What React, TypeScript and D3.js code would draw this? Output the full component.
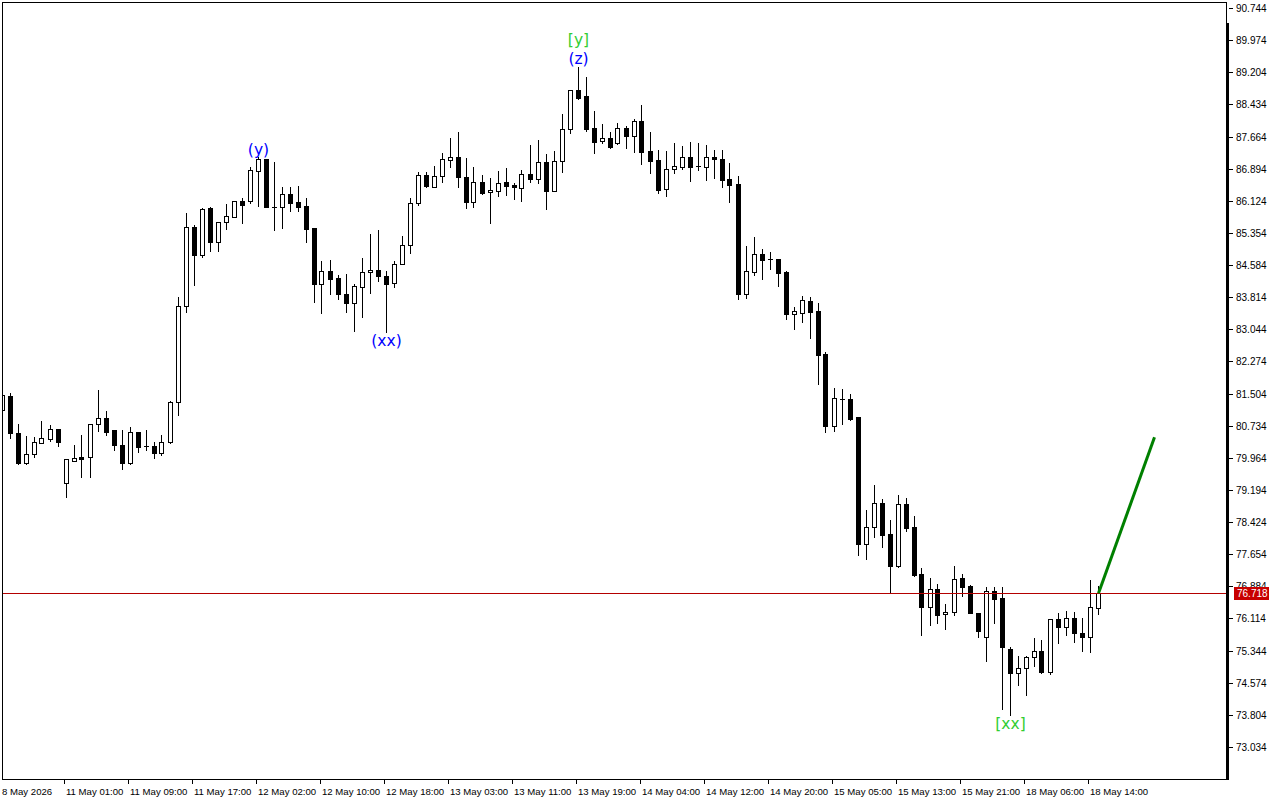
import React from 'react';
import * as d3 from 'd3';

const opens = [81.111,81.446,80.560,79.841,80.056,80.320,80.416,80.656,79.362,79.889,79.985,79.985,80.775,80.919,80.632,80.272,79.841,80.584,80.250,80.248,80.080,80.344,81.302,83.603,85.496,84.825,85.952,85.137,85.616,85.736,86.119,86.119,86.838,87.126,85.980,85.975,86.287,86.095,85.999,85.472,84.130,84.442,84.274,83.890,83.675,84.058,84.418,84.466,84.322,84.154,84.609,85.065,86.071,86.742,86.455,86.718,87.102,87.174,86.694,86.095,86.575,86.335,86.359,86.575,86.503,86.431,86.766,86.646,87.054,86.359,87.078,87.845,88.779,88.636,87.869,87.557,87.629,87.509,87.869,87.677,88.036,87.318,87.102,86.407,86.886,86.934,87.174,86.960,86.934,87.174,87.126,86.646,86.527,83.890,84.418,84.849,84.730,84.729,84.418,83.411,83.435,83.723,83.483,82.453,80.727,81.380,81.374,80.943,77.900,78.307,78.882,78.139,77.373,78.858,78.307,77.181,76.390,76.821,76.222,76.270,77.085,76.893,76.246,75.671,76.773,76.606,75.383,74.808,74.928,75.192,75.335,74.832,76.102,75.911,76.126,75.767,75.671,76.366];
const highs = [81.518,81.518,80.775,80.488,80.464,80.847,80.751,80.660,79.940,80.272,80.512,80.780,81.590,81.087,80.640,80.632,80.703,80.590,80.632,80.344,80.512,81.326,83.819,85.832,85.544,85.952,85.976,85.620,86.047,86.130,86.191,86.934,87.174,87.130,87.054,86.455,86.455,86.479,86.191,85.480,84.681,84.705,84.346,84.370,84.130,84.753,85.328,85.424,84.442,84.681,85.281,86.191,86.814,86.814,86.958,87.270,87.629,87.773,87.150,86.934,86.742,86.670,86.838,86.910,86.551,86.862,87.461,87.581,87.246,87.318,88.204,88.790,89.330,89.090,88.276,87.965,87.773,87.989,87.917,88.084,88.420,87.773,87.341,87.318,87.509,87.437,87.533,87.509,87.461,87.341,87.341,87.030,86.718,85.041,85.257,84.969,84.897,84.740,84.430,83.579,83.843,83.819,83.675,82.501,81.638,81.614,81.494,80.950,78.714,79.314,78.978,78.475,79.074,79.002,78.571,77.325,77.085,76.941,76.462,77.373,77.181,76.917,76.250,76.869,76.869,76.869,75.431,75.216,75.216,75.647,75.599,76.110,76.246,76.294,76.270,76.126,77.037,76.893];
const lows = [81.063,80.440,79.820,79.820,79.985,80.310,80.368,80.248,79.026,79.880,79.505,79.505,80.608,80.512,80.152,79.697,79.817,80.104,80.152,79.961,80.032,80.320,80.991,83.459,84.106,84.777,84.921,84.921,85.448,85.730,85.592,86.071,85.999,85.970,85.424,85.472,85.880,85.880,85.137,83.699,83.435,83.890,83.771,83.459,83.004,83.339,83.914,84.202,82.980,84.058,84.600,84.873,86.023,86.455,86.450,86.575,86.934,86.455,85.952,85.975,86.287,85.592,86.239,86.263,86.167,86.119,86.575,86.551,85.928,86.350,86.814,87.749,88.564,87.797,87.270,87.509,87.400,87.485,87.389,87.294,87.006,86.790,86.311,86.239,86.790,86.886,86.599,86.862,86.623,86.670,86.455,86.095,83.771,83.795,84.346,84.250,84.490,84.082,83.291,83.052,83.220,82.836,81.734,80.584,80.608,80.775,80.871,77.636,77.540,78.067,77.828,76.749,77.350,78.211,77.130,75.719,75.959,76.007,75.863,76.198,76.654,76.240,75.671,75.096,76.007,73.946,73.802,74.521,74.281,74.976,74.808,74.784,75.527,75.719,75.551,75.335,75.311,76.222];
const closes = [81.470,80.560,79.841,80.056,80.344,80.440,80.656,80.344,79.937,79.961,79.937,80.775,80.919,80.584,80.272,79.841,80.584,80.224,80.248,80.080,80.344,81.302,83.603,85.496,84.825,85.928,85.137,85.616,85.760,86.119,86.023,86.862,87.126,85.975,85.975,86.287,86.071,85.975,85.448,84.130,84.442,84.250,83.890,83.675,84.082,84.418,84.466,84.322,84.130,84.609,85.065,86.071,86.742,86.479,86.718,87.126,87.174,86.694,86.095,86.575,86.311,86.383,86.551,86.479,86.455,86.766,86.646,87.054,86.359,87.078,87.845,88.779,88.588,87.845,87.533,87.629,87.413,87.869,87.677,88.036,87.294,87.078,86.383,86.886,86.958,87.174,86.934,86.958,87.174,87.126,86.623,86.503,83.890,84.442,84.849,84.705,84.729,84.394,83.411,83.483,83.747,83.459,82.429,80.727,81.398,81.374,80.895,77.900,78.307,78.882,78.115,77.373,78.858,78.283,77.157,76.390,76.821,76.198,76.270,77.061,76.869,76.246,75.815,76.773,76.582,75.431,74.808,74.928,75.192,75.335,74.832,76.102,75.911,76.126,75.767,75.671,76.390,76.718];

const timeLabels = ['8 May 2026','11 May 01:00','11 May 09:00','11 May 17:00','12 May 02:00','12 May 10:00','12 May 18:00','13 May 03:00','13 May 11:00','13 May 19:00','14 May 04:00','14 May 12:00','14 May 20:00','15 May 05:00','15 May 13:00','15 May 21:00','18 May 06:00','18 May 14:00'];
const timeLabelBars = [0,8,16,24,32,40,48,56,64,72,80,88,96,104,112,120,128,136];
const priceTicks = [90.744,89.974,89.204,88.434,87.664,86.894,86.124,85.354,84.584,83.814,83.044,82.274,81.504,80.734,79.964,79.194,78.424,77.654,76.884,76.114,75.344,74.574,73.804,73.034];
const currentPrice = 76.718;

const waveLabels = ['(y)','(xx)','[y]','(z)','[xx]'];
const waveBars = [32,48,72,72,126];
const wavePrices = [87.341,82.764,89.989,89.522,73.586];
const waveColors = ['#0000ff','#0000ff','#32cd32','#0000ff','#32cd32'];

const projBars = [137,144];
const projPrices = [76.718,80.456];

const W = 1280, H = 800;
const plotLeft = 2, plotTop = 2, plotRight = 1229, plotBottom = 779;

export default function App() {
  const x = d3.scaleLinear().domain([0, 137]).range([2.5, 1098.5]);
  const y = d3.scaleLinear().domain([73.034, 90.744]).range([747, 8]);
  const axisFont = '"Liberation Sans", Arial, sans-serif';
  const waveFont = '"DejaVu Sans", sans-serif';
  const line = d3.line<number>().x((_, i) => x(projBars[i])).y((d) => y(d));
  const py = Math.round(y(currentPrice));

  return (
    <svg width={W} height={H} style={{ position: 'absolute', left: 0, top: 0, background: '#fff' }}>
      <defs>
        <clipPath id="plot">
          <rect x={plotLeft} y={plotTop} width={plotRight - plotLeft} height={plotBottom - plotTop} />
        </clipPath>
      </defs>
      <rect x={0} y={0} width={W} height={H} fill="#fff" />
      <g clipPath="url(#plot)">
        {opens.map((o, i) => {
          const c = closes[i];
          const cx = x(i);
          const left = Math.floor(cx - 2.5);
          const yh = Math.round(y(highs[i]));
          const yl = Math.round(y(lows[i]));
          const top = Math.round(y(Math.max(o, c)));
          const bot = Math.round(y(Math.min(o, c)));
          const bull = c > o;
          return (
            <g key={i}>
              <rect x={left + 2} y={yh} width={1} height={yl - yh + 1} fill="#000" />
              {bull ? (
                <rect x={left + 0.5} y={top + 0.5} width={4} height={Math.max(bot - top, 1)} fill="#fff" stroke="#000" strokeWidth={1} />
              ) : (
                <rect x={left} y={top} width={5} height={Math.max(bot - top + 1, 1)} fill="#000" />
              )}
            </g>
          );
        })}
        <line x1={plotLeft} x2={plotRight} y1={py + 0.5} y2={py + 0.5} stroke="#b40000" strokeWidth={1} />
        <path d={line(projPrices) || ''} stroke="#008000" strokeWidth={3} fill="none" />
        {waveLabels.map((t, i) => (
          <text key={t + i} x={x(waveBars[i])} y={y(wavePrices[i])} textAnchor="middle" dominantBaseline="central"
            fontFamily={waveFont} fontSize={15.5} fill={waveColors[i]}>{t}</text>
        ))}
      </g>
      {/* frame */}
      <rect x={plotLeft + 0.5} y={plotTop + 0.5} width={plotRight - plotLeft - 3} height={plotBottom - plotTop} fill="none" stroke="#000" strokeWidth={1} />
      <rect x={plotRight - 2} y={23} width={2} height={plotBottom - 23 + 1} fill="#000" />
      {/* price axis */}
      {priceTicks.map((p) => {
        const ty = Math.round(y(p));
        return (
          <g key={p}>
            <rect x={plotRight} y={ty} width={4} height={1} fill="#000" />
            <text x={plotRight + 7} y={ty} dominantBaseline="central" fontFamily={axisFont} fontSize={10} fill="#000">{p.toFixed(3)}</text>
          </g>
        );
      })}
      <rect x={1234} y={py - 6} width={35} height={13} fill="#c80000" />
      <text x={1237} y={py + 0.5} dominantBaseline="central" fontFamily={axisFont} fontSize={10} fill="#fff">{currentPrice.toFixed(3)}</text>
      {/* time axis */}
      {timeLabels.map((t, i) => {
        const tx = Math.floor(x(timeLabelBars[i]));
        return (
          <g key={t}>
            {i > 0 && <rect x={tx - 2} y={plotBottom} width={1} height={5} fill="#000" />}
            <text x={i === 0 ? 2 : tx} y={791} dominantBaseline="central" fontFamily={axisFont} fontSize={9.6} fill="#000">{t}</text>
          </g>
        );
      })}
    </svg>
  );
}
